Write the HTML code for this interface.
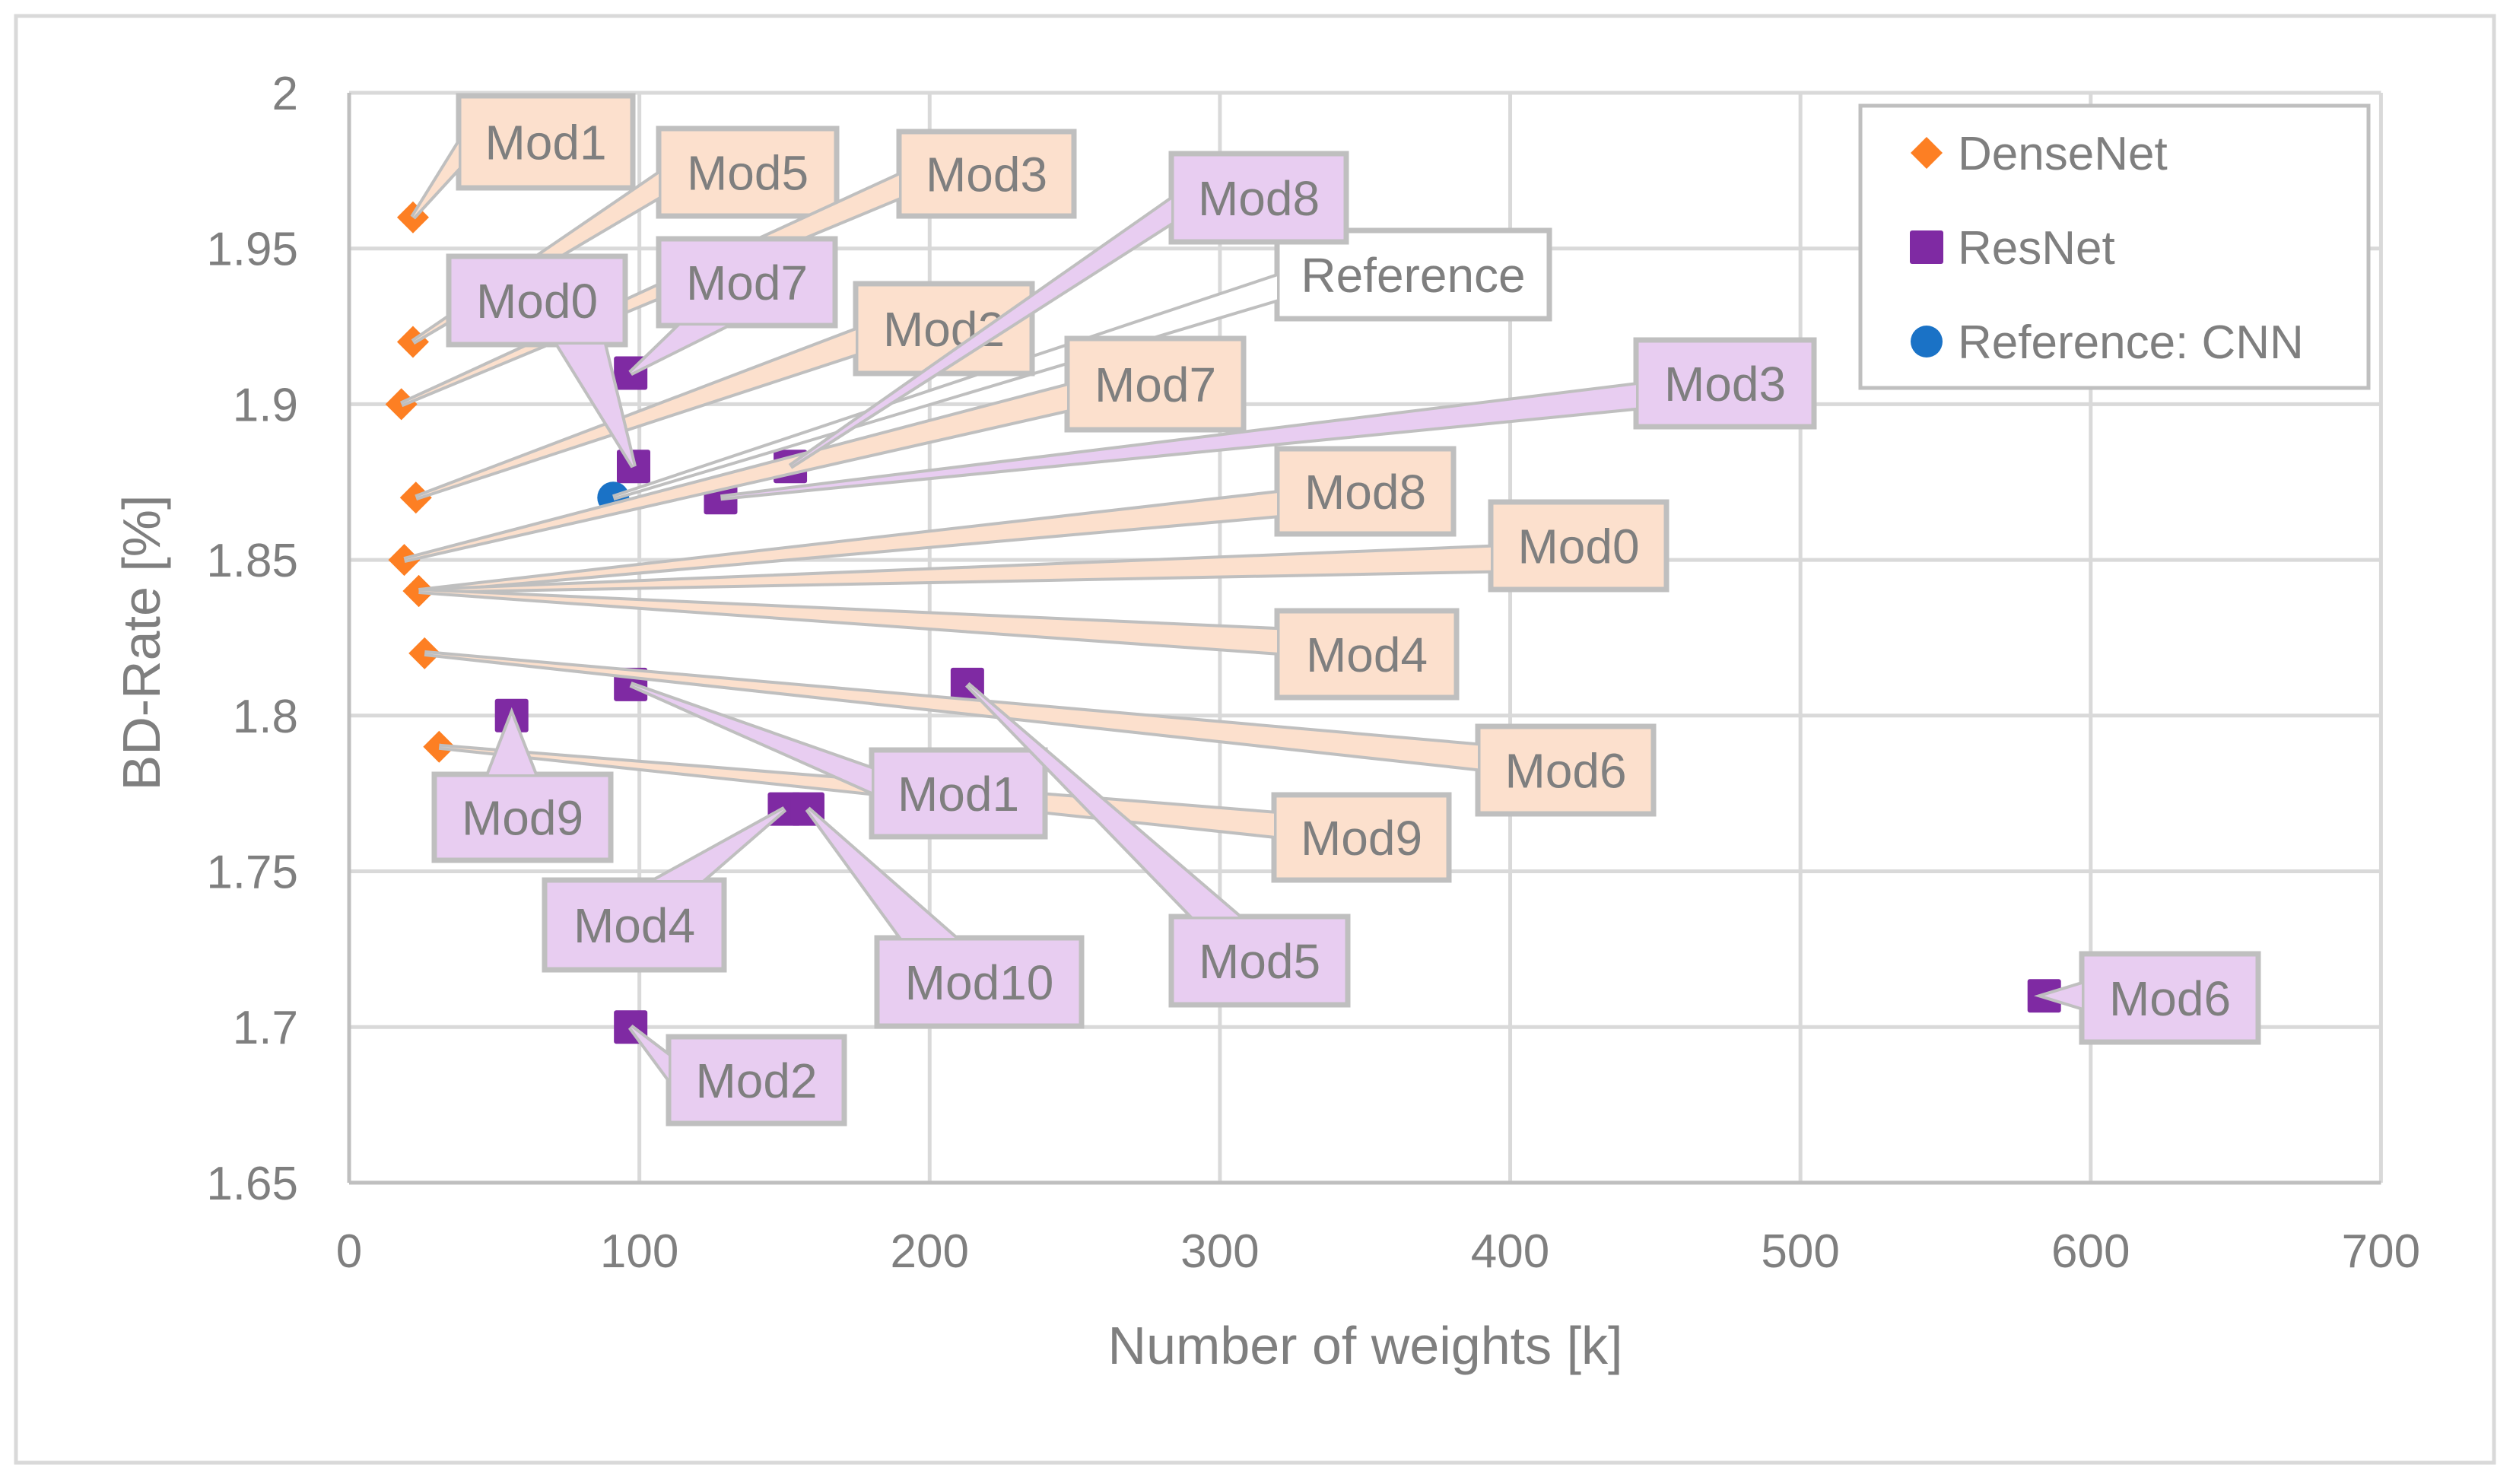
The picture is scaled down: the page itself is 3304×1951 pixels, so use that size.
<!DOCTYPE html>
<html><head><meta charset="utf-8"><style>
html,body{margin:0;padding:0;background:#fff;}
svg{display:block;font-family:"Liberation Sans",sans-serif;}
</style></head><body>
<svg id="chart" width="3304" height="1951" viewBox="0 0 3304 1951" xmlns="http://www.w3.org/2000/svg">
<rect x="21" y="21" width="3258" height="1902" fill="#fff" stroke="#d9d9d9" stroke-width="5"/>
<g id="grid"></g><g id="axes"></g><g id="marks"></g><g id="callouts"></g><g id="legend"></g>
</svg>
<script>
const NS="http://www.w3.org/2000/svg";
const xTicks=[0,100,200,300,400,500,600,700];
const yTicks=[1.65,1.7,1.75,1.8,1.85,1.9,1.95,2];
const yTickLabels=["1.65","1.7","1.75","1.8","1.85","1.9","1.95","2"];
const denseNames=["Mod1","Mod5","Mod3","Mod2","Mod7","Mod8","Mod0","Mod4","Mod6","Mod9"];
const denseX=[22,22,18,23,19,24,24,24,26,31];
const denseY=[1.96,1.92,1.90,1.87,1.85,1.84,1.84,1.84,1.82,1.79];
const resNames=["Mod7","Mod0","Mod3","Mod8","Mod1","Mod9","Mod4","Mod10","Mod5","Mod2","Mod6"];
const resX=[97,98,128,152,97,56,150,158,213,97,584];
const resY=[1.91,1.88,1.87,1.88,1.81,1.80,1.77,1.77,1.81,1.70,1.71];
const refNames=["Reference"];
const refX=[91];
const refY=[1.87];
// label box layout (pixels), in same order as series
const denseBoxes=[[603,126,832,247],[866,169,1100,284],[1182,173,1412,284],[1125,373,1357,491],[1403,445,1635,565],[1679,590,1911,702],[1960,660,2191,775],[1679,803,1915,917],[1943,955,2174,1070],[1675,1045,1905,1157]];
const resBoxes=[[866,314,1098,428],[590,337,822,453],[2151,447,2385,561],[1540,202,1770,318],[1146,986,1374,1100],[571,1018,803,1131],[716,1157,952,1275],[1153,1233,1422,1349],[1540,1205,1772,1321],[879,1363,1110,1477],[2737,1254,2969,1370]];
const refBoxes=[[1679,303,2037,419]];

const X0=459,XS=3.8163,Y0=122,YS=204.7/0.05;
const xs=v=>X0+v*XS, ys=v=>Y0+(2-v)*YS;
function el(tag,attrs,parent){const e=document.createElementNS(NS,tag);for(const k in attrs)e.setAttribute(k,attrs[k]);parent.appendChild(e);return e;}
const grid=document.getElementById('grid'),axes=document.getElementById('axes'),marks=document.getElementById('marks'),call=document.getElementById('callouts'),leg=document.getElementById('legend');
xTicks.forEach(t=>{
  const l=el('line',{x1:xs(t),x2:xs(t),y1:ys(2),y2:ys(1.65),stroke:'#d9d9d9','stroke-width':5},grid);
  
  
  const tx=el('text',{x:xs(t),y:1666,'text-anchor':'middle','font-size':62,fill:'#7f7f7f'},axes);tx.textContent=t;
  
  
});
yTicks.forEach((t,i)=>{
  const l=el('line',{x1:xs(0),x2:xs(700),y1:ys(t),y2:ys(t),stroke:'#d9d9d9','stroke-width':5},grid);
  
  
  const tx=el('text',{x:392,y:ys(t)+22,'text-anchor':'end','font-size':62,fill:'#7f7f7f'},axes);tx.textContent=yTickLabels[i];
  
  
});
let a=el('line',{x1:xs(0),x2:xs(700),y1:ys(1.65),y2:ys(1.65),stroke:'#bfbfbf','stroke-width':5},axes);


a=el('line',{x1:xs(0),x2:xs(0),y1:ys(2),y2:ys(1.65),stroke:'#bfbfbf','stroke-width':5},axes);


let t=el('text',{x:1795,y:1793,'text-anchor':'middle','font-size':70,fill:'#7f7f7f'},axes);t.textContent='Number of weights [k]';


t=el('text',{x:0,y:0,'text-anchor':'middle','font-size':70,fill:'#7f7f7f',transform:'translate(210,845) rotate(-90)'},axes);t.textContent='BD-Rate [%]';



function diamond(x,y,c,p){const s=21;const e=el('polygon',{points:`${x},${y-s} ${x+s},${y} ${x},${y+s} ${x-s},${y}`,fill:c},p);return e;}
function square(x,y,c,p){return el('rect',{x:x-22,y:y-22,width:44,height:44,fill:c,rx:3},p);}
function circle(x,y,c,p){return el('circle',{cx:x,cy:y,r:21,fill:c},p);}
denseX.forEach((v,i)=>{const m=diamond(xs(v),ys(denseY[i]),'#fd7f23',marks);
  
  });
resX.forEach((v,i)=>{const m=square(xs(v),ys(resY[i]),'#7f2aa3',marks);
  
  });
refX.forEach((v,i)=>{const m=circle(xs(v),ys(refY[i]),'#1a72c6',marks);
  
  });

function callout(name,px,py,b,fill){
  const [x1,y1,x2,y2]=b,w=x2-x1,h=y2-y1,cx=(x1+x2)/2,cy=(y1+y2)/2;
  let p1,p2;
  const dx=px<x1?x1-px:(px>x2?px-x2:0), dy=py<y1?y1-py:(py>y2?py-y2:0);
  if(dx>dy*1.5){const ex=px<x1?x1:x2;const by=Math.min(Math.max(py,y1+h*0.35),y2-h*0.35);p1=[ex,by-h*0.13];p2=[ex,by+h*0.13];}
  else{const ey=py<y1?y1:y2;const bx=Math.min(Math.max(px,x1+w*0.25),x2-w*0.25);p1=[bx-w*0.13,ey];p2=[bx+w*0.13,ey];}
  const g=el('g',{},call);
  
  
  el('polygon',{points:`${px},${py} ${p1[0]},${p1[1]} ${p2[0]},${p2[1]}`,fill:fill,stroke:'#bfbfbf','stroke-width':8,'stroke-linejoin':'miter'},g);
  el('rect',{x:x1,y:y1,width:w,height:h,fill:fill,stroke:'#bfbfbf','stroke-width':7},g);
  el('polygon',{points:`${px},${py} ${p1[0]},${p1[1]} ${p2[0]},${p2[1]}`,fill:fill,stroke:'none'},g);
  const tx=el('text',{x:cx,y:cy+23,'text-anchor':'middle','font-size':64,fill:'#7f7f7f'},g);tx.textContent=name;
}
refNames.forEach((n,i)=>callout(n,xs(refX[i]),ys(refY[i]),refBoxes[i],'#ffffff'));
denseNames.forEach((n,i)=>callout(n,xs(denseX[i]),ys(denseY[i]),denseBoxes[i],'#fce0cd'));
resNames.forEach((n,i)=>callout(n,xs(resX[i]),ys(resY[i]),resBoxes[i],'#e8cdf1'));

const lb=el('rect',{x:2446,y:139,width:668,height:371,fill:'#fff',stroke:'#bfbfbf','stroke-width':5},leg);


const legNames=["DenseNet","ResNet","Reference: CNN"];
const legFns=[diamond,square,circle],legCols=['#fd7f23','#7f2aa3','#1a72c6'];
legNames.forEach((n,i)=>{const y=201+i*124;const g=el('g',{},leg);
  
  
  legFns[i](2533,y,legCols[i],g);
  const tx=el('text',{x:2574,y:y+22,'font-size':62,fill:'#7f7f7f'},g);tx.textContent=n;});
</script>
</body></html>
